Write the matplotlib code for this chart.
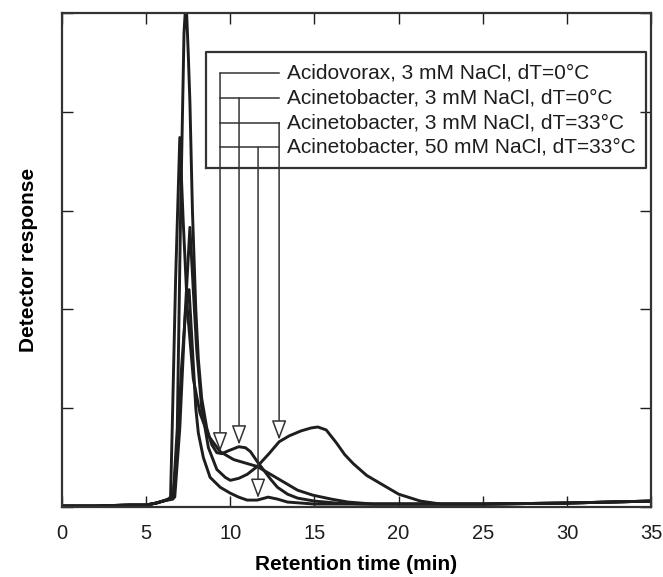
import matplotlib
matplotlib.use("Agg")
import matplotlib.pyplot as plt

plt.rcParams["font.family"] = ["Liberation Sans", "DejaVu Sans"]

# ── データ───────────────────────────────────────
# Acidovorax, 3 mM NaCl, dT=0°C
acido_x = [0, 2, 4, 5, 5.6, 6.0, 6.3, 6.45, 6.55, 6.75, 7.0, 7.2, 7.45, 7.8, 8.2, 8.7,
           9.4, 10.2, 11.0, 11.6, 12.3, 13.0, 14.0, 14.9, 16.0, 17.0, 18.5, 20, 25, 30, 35]
acido_y = [0.01, 0.01, 0.02, 0.02, 0.04, 0.06, 0.08, 0.10, 0.8, 2.3, 3.74, 2.9, 2.0, 1.3,
           0.95, 0.72, 0.56, 0.48, 0.44, 0.41, 0.34, 0.27, 0.17, 0.12, 0.08, 0.05, 0.03,
           0.03, 0.03, 0.04, 0.06]

# Acinetobacter, 3 mM NaCl, dT=0°C
acin0_x = [0, 2, 4, 5, 5.6, 6.0, 6.3, 6.6, 6.85, 7.05, 7.25, 7.37, 7.5, 7.6, 7.75, 7.95,
           8.1, 8.3, 8.6, 8.9, 9.2, 9.5, 9.9, 10.5, 10.9, 11.2, 11.6, 12.0, 12.4, 12.8,
           13.4, 14.0, 15.0, 16.3, 18.0, 25, 30, 35]
acin0_y = [0.01, 0.01, 0.02, 0.02, 0.04, 0.06, 0.07, 0.08, 0.8, 3.0, 4.8, 5.15, 4.6, 4.1,
           3.0, 2.0, 1.5, 1.1, 0.8, 0.63, 0.55, 0.54, 0.57, 0.61, 0.60, 0.56, 0.46, 0.37,
           0.28, 0.20, 0.13, 0.09, 0.06, 0.04, 0.03, 0.03, 0.04, 0.06]

# Acinetobacter, 3 mM NaCl, dT=33°C
acin33_x = [0, 2, 4, 5, 5.6, 6.0, 6.4, 6.7, 7.0, 7.3, 7.6, 7.8, 8.0, 8.3, 8.7, 9.2, 9.7,
            10.0, 10.5, 11.0, 11.6, 12.3, 12.9, 13.5, 14.2, 14.8, 15.2, 15.7, 16.3, 16.8,
            17.3, 18.1, 18.9, 20.0, 21.3, 22.5, 25, 30, 35]
acin33_y = [0.01, 0.01, 0.02, 0.02, 0.04, 0.06, 0.08, 0.10, 0.8, 1.9, 2.83, 2.2, 1.6, 1.0,
            0.6, 0.38, 0.30, 0.27, 0.29, 0.33, 0.41, 0.54, 0.66, 0.72, 0.77, 0.80, 0.81,
            0.78, 0.65, 0.53, 0.44, 0.32, 0.24, 0.13, 0.06, 0.03, 0.03, 0.04, 0.06]

# Acinetobacter, 50 mM NaCl, dT=33°C
acin50_x = [0, 2, 4, 5, 5.6, 6.0, 6.4, 6.6, 6.85, 7.1, 7.35, 7.55, 7.75, 7.95, 8.1, 8.4,
            8.8, 9.4, 10.0, 10.5, 11.0, 11.6, 12.25, 12.8, 13.4, 15.0, 20, 25, 30, 35]
acin50_y = [0.01, 0.01, 0.02, 0.02, 0.04, 0.06, 0.08, 0.10, 0.6, 1.4, 2.0, 2.2, 1.6, 1.0,
            0.75, 0.5, 0.30, 0.20, 0.14, 0.10, 0.07, 0.07, 0.10, 0.08, 0.05, 0.03, 0.03,
            0.03, 0.04, 0.06]

SERIES = [(acido_x, acido_y), (acin0_x, acin0_y), (acin33_x, acin33_y), (acin50_x, acin50_y)]

LABELS = [
    "Acidovorax, 3 mM NaCl, dT=0°C",
    "Acinetobacter, 3 mM NaCl, dT=0°C",
    "Acinetobacter, 3 mM NaCl, dT=33°C",
    "Acinetobacter, 50 mM NaCl, dT=33°C",
]

X_TICKS = [0, 5, 10, 15, 20, 25, 30, 35]
Y_TICKS = [0, 1, 2, 3, 4, 5]

# 引き出し線: (行の y, 矢印の x, 矢印先端の y)
CALLOUTS = [(4.39, 9.39, 0.56), (4.14, 10.52, 0.63), (3.89, 12.90, 0.68), (3.64, 11.65, 0.09)]
LEAD_X0, LEAD_X1, TEXT_X = 9.39, 12.90, 13.38
BOX = (8.56, 3.43, 34.72, 4.605)

INK = "#1e1e1e"

fig = plt.figure(figsize=(6.63, 5.77), dpi=100)
ax = fig.add_axes([0.0935, 0.1213, 0.8885, 0.8562])

for xs, ys in SERIES:
    ax.plot(xs, ys, color=INK, lw=2.1, solid_joinstyle="round")

ax.set_xlim(0, 35)
ax.set_ylim(0, 5)
ax.set_xticks(X_TICKS)
ax.set_yticks(Y_TICKS)
ax.set_yticklabels([])
ax.tick_params(direction="in", length=8, width=1.0, top=True, right=True,
               labelsize=14.5, pad=12, colors=INK)
for s in ax.spines.values():
    s.set_linewidth(1.6)
    s.set_color("#333333")

ax.set_xlabel("Retention time (min)", fontsize=15, fontweight="bold", labelpad=9)
ax.set_ylabel("Detector response", fontsize=15, fontweight="bold", labelpad=5)

# 凡例ボックス
bx0, by0, bx1, by1 = BOX
ax.plot([bx0, bx1, bx1, bx0, bx0], [by0, by0, by1, by1, by0], color="#333333", lw=1.6)

for (row_y, ax_x, tip_y), label in zip(CALLOUTS, LABELS):
    ax.plot([LEAD_X0, LEAD_X1], [row_y, row_y], color="#333333", lw=1.1)
    ax.annotate("", xy=(ax_x, tip_y), xytext=(ax_x, row_y),
                arrowprops=dict(arrowstyle="-|>,head_length=1.2,head_width=0.45",
                                fc="white", ec="#333333", lw=1.1,
                                shrinkA=0, shrinkB=0, mutation_scale=10))
    ax.text(TEXT_X, row_y, label, ha="left", va="center", fontsize=15, color=INK)

fig.savefig("out.png", dpi=100, facecolor="white")
